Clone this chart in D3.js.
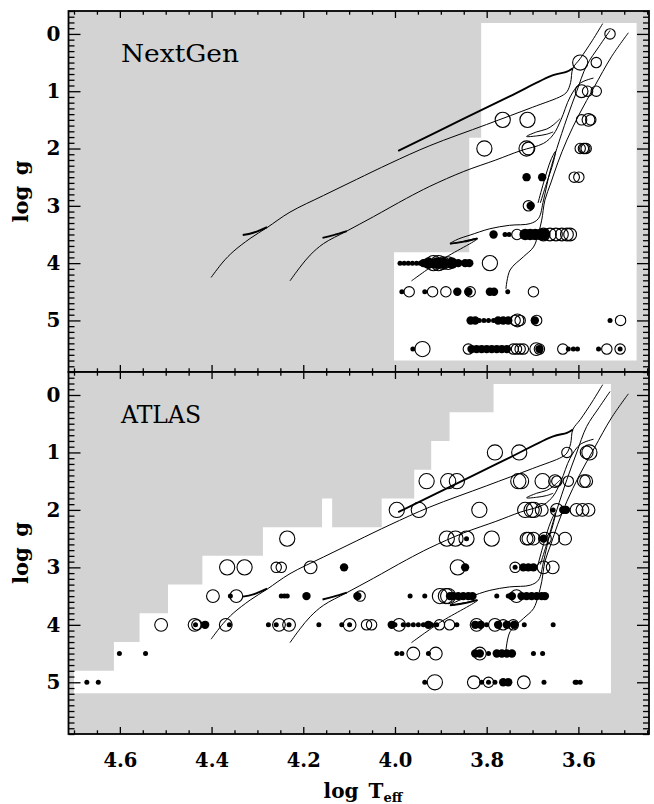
<!DOCTYPE html>
<html><head><meta charset="utf-8">
<script src="https://cdn.jsdelivr.net/npm/d3@7"></script>
<style>
html,body{margin:0;padding:0;background:#fff;}
svg{display:block;}
</style></head>
<body>
<svg id="chart" width="654" height="804"></svg>
<script>
// ---------------- data ----------------
const xTickValues = [4.6, 4.4, 4.2, 4.0, 3.8, 3.6];
const xTickLabels = ["4.6", "4.4", "4.2", "4.0", "3.8", "3.6"];
const yTickValues = [0, 1, 2, 3, 4, 5];
const yTickLabels = ["0", "1", "2", "3", "4", "5"];
const panelNames = ["NextGen", "ATLAS"];
const xTitle = "log\u2002T";
const xTitleSub = "eff";
const yTitle = "log\u2002g";

// model-grid coverage (log Teff, log g)
const nextgenCoverage = [[3.812,-0.19],[3.473,-0.19],[3.473,5.70],[4.002,5.70],[4.002,3.81],[3.838,3.81],[3.838,1.81],[3.812,1.81]];
const atlasCoverage = [[3.785,-0.19],[3.529,-0.19],[3.529,5.19],[4.700,5.19],[4.700,4.80],[4.613,4.80],[4.613,4.30],[4.557,4.30],[4.557,3.80],[4.495,3.80],[4.495,3.30],[4.420,3.30],[4.420,2.80],[4.288,2.80],[4.288,2.30],[4.159,2.30],[4.159,1.80],[4.137,1.80],[4.137,2.30],[4.029,2.30],[4.029,1.80],[3.958,1.80],[3.958,1.30],[3.921,1.30],[3.921,0.80],[3.881,0.80],[3.881,0.30],[3.785,0.30]];

// evolutionary tracks (log Teff, log g)
const trackA = [[4.401,4.25],[4.375,3.98],[4.353,3.80],[4.316,3.57],[4.279,3.38],[4.229,3.11],[4.156,2.82],[4.084,2.54],[4.011,2.26],[3.924,1.95],[3.80,1.58],[3.70,1.28],[3.636,1.08],[3.625,1.01],[3.617,0.85],[3.612,0.60],[3.596,0.43],[3.570,0.12],[3.547,-0.18]];
const trackAHook = [[4.332,3.51],[4.309,3.47],[4.279,3.37]];
const trackALoop = [[3.612,0.60],[3.625,0.66],[3.655,0.72],[3.75,1.09],[3.85,1.48],[3.993,2.04]];
const trackB = [[4.229,4.31],[4.207,4.07],[4.185,3.86],[4.156,3.66],[4.105,3.44],[4.047,3.19],[3.975,2.87],[3.924,2.66],[3.85,2.40],[3.78,2.20],[3.727,2.04],[3.676,1.91],[3.655,1.76],[3.638,1.50],[3.618,1.10],[3.596,0.86],[3.567,0.77]];
const trackBHook = [[4.158,3.56],[4.134,3.51],[4.105,3.44]];
const trackBLoop = [[3.640,1.48],[3.655,1.59],[3.669,1.66],[3.691,1.71],[3.713,1.79],[3.691,1.78],[3.669,1.75],[3.655,1.71]];
const trackC = [[3.964,4.31],[3.900,3.95],[3.820,3.57],[3.850,3.62],[3.880,3.66],[3.862,3.58],[3.836,3.51],[3.793,3.40],[3.750,3.34],[3.705,3.31],[3.687,3.22],[3.676,2.90],[3.662,2.40],[3.647,2.00],[3.625,1.47],[3.604,1.01],[3.582,0.55],[3.555,0.22],[3.531,-0.06]];
const trackCHook = [[3.820,3.57],[3.850,3.625],[3.880,3.66]];
const trackCClump = [[3.688,2.95],[3.676,2.60],[3.660,2.20],[3.650,2.05],[3.655,2.25],[3.670,2.62],[3.683,2.95]];
const trackD = [[3.758,4.45],[3.749,4.12],[3.720,3.89],[3.698,3.72],[3.687,3.48],[3.680,3.25],[3.673,2.90],[3.660,2.60],[3.645,2.25],[3.625,1.85],[3.598,1.40],[3.565,0.92],[3.528,0.40],[3.491,-0.02]];

// stars, NextGen panel (log Teff, log g)
const ngRingLarge = [[3.596,0.5],[3.765,1.5],[3.711,1.5],[3.805,2.0],[3.713,2.0],[3.916,4.0],[3.905,4.0],[3.793,4.0],[3.940,5.5]];
const ngRingMedium = [[3.578,1.5],[3.709,2.0],[3.895,4.0],[3.884,4.0],[3.733,5.0],[3.692,5.5],[3.593,1.0],[3.676,3.5],[3.662,3.5],[3.649,3.5],[3.636,3.5],[3.625,3.5],[3.618,3.5]];
const ngRingSmall = [[3.531,0.0],[3.561,0.5],[3.580,1.0],[3.561,1.0],[3.593,1.5],[3.573,1.5],[3.596,2.0],[3.589,2.0],[3.586,2.0],[3.583,2.0],[3.609,2.5],[3.599,2.5],[3.709,3.0],[3.734,3.5],[3.969,4.5],[3.918,4.5],[3.889,4.5],[3.836,4.5],[3.698,4.5],[3.738,5.0],[3.727,5.0],[3.691,5.0],[3.508,5.0],[3.840,5.5],[3.742,5.5],[3.735,5.5],[3.727,5.5],[3.720,5.5],[3.685,5.5],[3.634,5.5],[3.538,5.5],[3.509,5.5]];
const ngDotLarge = [[3.716,3.5],[3.705,3.5],[3.694,3.5],[3.683,3.5],[3.675,3.5],[3.927,4.0],[3.909,4.0],[3.895,4.0],[3.876,4.0]];
const ngDotMedium = [[3.713,2.5],[3.679,2.5],[3.704,3.0],[3.785,3.5],[3.938,4.0],[3.862,4.0],[3.847,4.0],[3.838,4.0],[3.864,4.5],[3.840,4.5],[3.793,4.5],[3.784,4.5],[3.835,5.0],[3.825,5.0],[3.775,5.0],[3.764,5.0],[3.753,5.0],[3.695,5.0],[3.833,5.5],[3.822,5.5],[3.811,5.5],[3.800,5.5],[3.789,5.5],[3.778,5.5],[3.767,5.5],[3.756,5.5],[3.685,5.5]];
const ngDotSmall = [[3.760,3.5],[3.751,3.5],[3.989,4.0],[3.980,4.0],[3.971,4.0],[3.962,4.0],[3.953,4.0],[3.945,4.0],[3.985,4.5],[3.935,4.5],[3.754,4.5],[3.816,5.0],[3.806,5.0],[3.796,5.0],[3.785,5.0],[3.531,5.0],[3.961,5.5],[3.622,5.5],[3.611,5.5],[3.602,5.5],[3.556,5.5],[3.509,5.5]];

// stars, ATLAS panel (log Teff, log g)
const atRingLarge = [[4.235,2.5],[4.366,3.0],[4.328,3.0],[3.782,1.0],[3.729,1.0],[3.576,1.0],[3.931,1.5],[3.884,1.5],[3.865,1.5],[3.731,1.5],[3.725,1.5],[3.678,1.5],[3.996,2.0],[3.948,2.0],[3.816,2.0],[3.716,2.0],[3.702,2.0],[3.697,2.0],[3.887,2.5],[3.868,2.5],[3.844,2.5],[3.789,2.5],[3.863,3.0],[3.902,3.5],[3.889,3.5],[3.884,3.5],[3.913,5.0]];
const atRingMedium = [[4.184,3.0],[4.397,3.5],[4.346,3.5],[4.510,4.0],[4.437,4.0],[4.369,4.0],[4.253,4.0],[4.231,4.0],[4.099,4.0],[3.582,1.0],[3.651,1.5],[3.588,1.5],[3.583,1.5],[3.680,2.0],[3.647,2.0],[3.604,2.0],[3.591,2.0],[3.578,2.0],[3.713,2.5],[3.709,2.5],[3.698,2.5],[3.673,2.5],[3.655,2.5],[3.629,2.5],[3.676,3.0],[3.656,3.0],[3.735,3.5],[3.991,4.0],[3.822,4.0],[3.782,4.0],[3.960,4.5],[3.911,4.5],[3.815,4.5],[3.828,5.0],[3.719,5.0]];
const atRingSmall = [[4.259,3.0],[4.248,3.0],[4.076,3.5],[4.432,4.0],[3.625,1.0],[3.647,1.5],[3.622,1.5],[3.738,3.0],[4.062,4.0],[4.051,4.0],[3.903,4.0],[3.881,4.0],[3.764,4.0],[3.742,4.0],[3.796,5.0]];
const atDotMedium = [[4.111,3.0],[4.193,3.5],[4.414,4.0],[4.082,3.5],[3.633,2.0],[3.627,2.0],[3.676,2.5],[3.847,3.0],[3.720,3.0],[3.709,3.0],[3.698,3.0],[3.880,3.5],[3.873,3.5],[3.862,3.5],[3.851,3.5],[3.840,3.5],[3.831,3.5],[3.745,3.5],[3.724,3.5],[3.713,3.5],[3.702,3.5],[3.691,3.5],[3.680,3.5],[3.673,3.5],[4.007,4.0],[3.927,4.0],[3.825,4.0],[3.813,4.0],[3.775,4.0],[3.756,4.0],[3.740,4.0],[3.825,4.5],[3.815,4.5],[3.778,4.5],[3.767,4.5],[3.756,4.5],[3.745,4.5],[3.764,5.0],[3.753,5.0]];
const atDotSmall = [[4.359,3.5],[4.248,3.5],[4.241,3.5],[4.235,3.5],[4.435,4.0],[4.361,4.0],[4.276,4.0],[4.259,4.0],[4.231,4.0],[4.166,4.0],[4.116,4.0],[4.099,4.0],[4.601,4.5],[4.544,4.5],[4.672,5.0],[4.647,5.0],[3.655,2.0],[3.844,2.5],[3.738,3.0],[3.967,3.5],[3.935,3.5],[3.778,3.5],[3.753,3.5],[4.000,4.0],[3.982,4.0],[3.971,4.0],[3.960,4.0],[3.949,4.0],[3.938,4.0],[3.920,4.0],[3.909,4.0],[3.865,4.0],[3.800,4.0],[3.718,4.0],[3.655,4.0],[3.996,4.5],[3.985,4.5],[3.927,4.5],[3.796,4.5],[3.698,4.5],[3.678,4.5],[3.935,5.0],[3.811,5.0],[3.796,5.0],[3.782,5.0],[3.675,5.0],[3.607,5.0],[3.604,5.0],[3.596,5.0]];

// ---------------- drawing ----------------
const svg = d3.select("#chart");
const left = 68.5, right = 649;
const panelsY = [[11, 372], [372, 734]];
const gray = "#d3d3d3";

const x = d3.scaleLinear().domain([4.712, 3.446]).range([left, right]);
const markerRadius = d3.scaleOrdinal()
  .domain(["ringLarge", "ringMedium", "ringSmall", "dotLarge", "dotMedium", "dotSmall"])
  .range([7.6, 6.4, 5.2, 5.8, 4.2, 2.5]);

const xMinor = d3.range(4.70, 3.44, -0.05).map(v => +v.toFixed(2))
  .filter(v => !xTickValues.some(t => Math.abs(t - v) < 1e-6));
const yMinor = d3.range(-0.4, 5.95, 0.1).map(v => +v.toFixed(1))
  .filter(v => Math.abs(v - Math.round(v)) > 1e-6);

const panelData = [
  { coverage: nextgenCoverage, ringLarge: ngRingLarge, ringMedium: ngRingMedium, ringSmall: ngRingSmall,
    dotLarge: ngDotLarge, dotMedium: ngDotMedium, dotSmall: ngDotSmall },
  { coverage: atlasCoverage, ringLarge: atRingLarge, ringMedium: atRingMedium, ringSmall: atRingSmall,
    dotLarge: [], dotMedium: atDotMedium, dotSmall: atDotSmall }
];

const thinTracks = [trackA, trackB, trackC, trackD, trackBLoop, trackCClump];
const thickTracks = [trackAHook, trackBHook, trackCHook, trackALoop];

panelData.forEach((pd, i) => {
  const [y0, y1] = panelsY[i];
  const y = d3.scaleLinear().domain([-0.4, 5.9]).range([y0, y1]);
  const g = svg.append("g");

  g.append("rect").attr("x", left).attr("y", y0)
    .attr("width", right - left).attr("height", y1 - y0).attr("fill", gray);

  const poly = d3.line().x(d => x(d[0])).y(d => y(d[1]));
  g.append("path").attr("d", poly(pd.coverage) + "Z").attr("fill", "#fff");

  const curve = d3.line().x(d => x(d[0])).y(d => y(d[1])).curve(d3.curveCatmullRom.alpha(0.5));
  g.selectAll(null).data(thinTracks).enter().append("path")
    .attr("d", curve).attr("fill", "none").attr("stroke", "#000").attr("stroke-width", 1);
  g.selectAll(null).data(thickTracks).enter().append("path")
    .attr("d", curve).attr("fill", "none").attr("stroke", "#000").attr("stroke-width", 1.9);

  ["ringLarge", "ringMedium", "ringSmall"].forEach(k => {
    g.selectAll(null).data(pd[k]).enter().append("circle")
      .attr("cx", d => x(d[0])).attr("cy", d => y(d[1]))
      .attr("r", markerRadius(k)).attr("fill", "none")
      .attr("stroke", "#000").attr("stroke-width", 1.1);
  });
  ["dotLarge", "dotMedium", "dotSmall"].forEach(k => {
    g.selectAll(null).data(pd[k]).enter().append("circle")
      .attr("cx", d => x(d[0])).attr("cy", d => y(d[1]))
      .attr("r", markerRadius(k)).attr("fill", "#000");
  });

  // axes (ticks inward on all four sides)
  const tickStyle = sel => {
    sel.select(".domain").remove();
    sel.selectAll(".tick line").attr("stroke", "#000").attr("stroke-width", 1.3);
  };
  const isBottom = i === 1;
  const bottomAxis = g.append("g").attr("transform", `translate(0,${y1})`)
    .call(d3.axisBottom(x).tickValues(xTickValues).tickSize(-7).tickPadding(19)
      .tickFormat((d, j) => isBottom ? xTickLabels[j] : ""));
  bottomAxis.call(tickStyle);
  bottomAxis.selectAll("text").attr("fill", "#000")
    .style("font-family", "'DejaVu Serif', serif").style("font-weight", "bold").style("font-size", "19.5px");
  g.append("g").attr("transform", `translate(0,${y1})`)
    .call(d3.axisBottom(x).tickValues(xMinor).tickSize(-3.7).tickFormat("")).call(tickStyle);
  g.append("g").attr("transform", `translate(0,${y0})`)
    .call(d3.axisTop(x).tickValues(xTickValues).tickSize(-7).tickFormat("")).call(tickStyle);
  g.append("g").attr("transform", `translate(0,${y0})`)
    .call(d3.axisTop(x).tickValues(xMinor).tickSize(-3.7).tickFormat("")).call(tickStyle);

  const leftAxis = g.append("g").attr("transform", `translate(${left},0)`)
    .call(d3.axisLeft(y).tickValues(yTickValues).tickSize(-12).tickPadding(8)
      .tickFormat((d, j) => yTickLabels[j]));
  leftAxis.call(tickStyle);
  leftAxis.selectAll("text").attr("fill", "#000")
    .style("font-family", "'DejaVu Serif', serif").style("font-weight", "bold").style("font-size", "20px");
  g.append("g").attr("transform", `translate(${left},0)`)
    .call(d3.axisLeft(y).tickValues(yMinor).tickSize(-6).tickFormat("")).call(tickStyle);
  g.append("g").attr("transform", `translate(${right},0)`)
    .call(d3.axisRight(y).tickValues(yTickValues).tickSize(-12).tickFormat("")).call(tickStyle);
  g.append("g").attr("transform", `translate(${right},0)`)
    .call(d3.axisRight(y).tickValues(yMinor).tickSize(-6).tickFormat("")).call(tickStyle);

  g.append("rect").attr("x", left).attr("y", y0)
    .attr("width", right - left).attr("height", y1 - y0)
    .attr("fill", "none").attr("stroke", "#000").attr("stroke-width", 1.8);

  // panel name
  g.append("text").attr("x", 121).attr("y", y0 + 51)
    .attr("textLength", i === 0 ? 118 : 80).attr("lengthAdjust", "spacingAndGlyphs")
    .style("font-family", "'DejaVu Serif', serif").style("font-size", "24px")
    .attr("fill", "#000").text(panelNames[i]);

  // y title
  g.append("text").attr("transform", `translate(28,${(y0 + y1) / 2}) rotate(-90)`)
    .attr("text-anchor", "middle")
    .style("font-family", "'DejaVu Serif', serif").style("font-weight", "bold").style("font-size", "21px")
    .attr("fill", "#000").text(yTitle);
});

// x title with subscript
const xt = svg.append("text").attr("x", 363).attr("y", 798).attr("text-anchor", "middle")
  .style("font-family", "'DejaVu Serif', serif").style("font-weight", "bold").style("font-size", "20px")
  .attr("fill", "#000");
xt.append("tspan").text(xTitle);
xt.append("tspan").attr("dy", 4).style("font-size", "13px").text(xTitleSub);
</script>
</body></html>
